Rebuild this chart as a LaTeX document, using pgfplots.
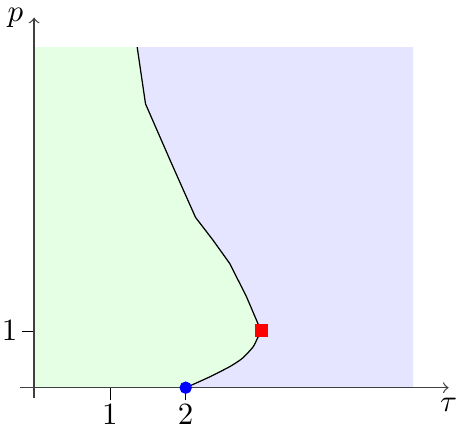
\documentclass[border=0pt]{standalone}
\usepackage{pgfplots}
\pgfplotsset{compat=1.18}
\begin{document}
\begin{tikzpicture}
\begin{axis}[
  set layers,
  x=24.5pt,y=18.35pt,
  axis lines=middle,axis line style={black!75,->},
  xmin=-0.18,xmax=5.47,ymin=-0.18,ymax=6.52,
  xtick={1,2},ytick={1},
  tick align=outside,major tick length=4pt,tick style={black},
  ticklabel style={inner sep=1.2pt},
  xlabel={$\tau$},ylabel={$p$},
  xlabel style={at={(ticklabel* cs:1)},anchor=north},
  ylabel style={at={(ticklabel* cs:1)},anchor=east},
]
\addplot[fill=blue!10,draw=none,on layer=axis background] coordinates {(0,0) (5,0) (5,6) (0,6)} \closedcycle;
\addplot[fill=green!10,draw=none,on layer=axis background] coordinates {
 (0,0) (2,0) (2.3,0.18) (2.58,0.37) (2.75,0.52) (2.89,0.72) (2.95,0.88) (3,1)
 (2.95,1.14) (2.8,1.61) (2.58,2.19) (2.36,2.6) (2.13,3) (1.81,3.96) (1.47,5) (1.36,6) (0,6)
} --cycle;
\addplot[black,thin,smooth,tension=0.4] coordinates {
 (2,0) (2.3,0.18) (2.58,0.37) (2.75,0.52) (2.89,0.72) (2.95,0.88) (3,1)
};
\addplot[black,thin] coordinates {
 (3,1) (2.95,1.14) (2.8,1.61) (2.58,2.19) (2.36,2.6) (2.13,3) (1.81,3.96) (1.47,5) (1.36,6)
};
\addplot[only marks,mark=*,blue,mark size=1.8pt] coordinates {(2,0)};
\addplot[only marks,mark=square*,red,mark size=1.9pt] coordinates {(3,1)};
\coordinate (bl) at (axis cs:-0.45,-0.74);
\coordinate (tr) at (axis cs:5.58,6.83);
\end{axis}
\pgfresetboundingbox
\useasboundingbox (bl) rectangle (tr);
\end{tikzpicture}
\end{document}
